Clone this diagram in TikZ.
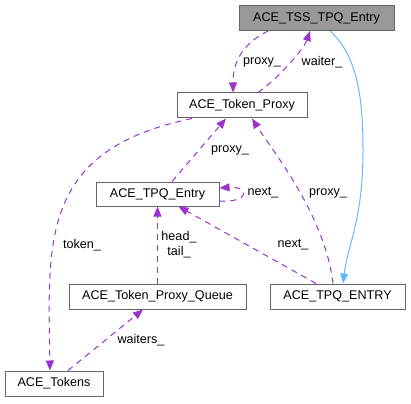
\documentclass[tikz,border=0pt]{standalone}
\usepackage{fontspec}
\setmainfont{Liberation Sans}
\usetikzlibrary{arrows.meta}
\definecolor{edgepurple}{HTML}{9A32CD}
\definecolor{edgeblue}{HTML}{63B8FF}
\definecolor{nodeborder}{HTML}{666666}
\definecolor{nodefill}{HTML}{999999}
\begin{document}
\begin{tikzpicture}[x=1pt,y=-1pt,
  txt/.style={font=\fontsize{12.6}{14}\selectfont},
  box/.style={txt,draw=nodeborder,line width=1pt,fill=white,minimum height=25pt,inner sep=0pt},
  rel/.style={draw=edgepurple,line width=1pt,dash pattern=on 6pt off 5pt,
    -{Triangle[length=10pt,width=8pt,fill=edgepurple]}},
  inh/.style={draw=edgeblue,line width=1pt,-{Triangle[length=10pt,width=8pt,fill=edgeblue]}},
  lbl/.style={txt,inner sep=1pt,align=center}]
\useasboundingbox (0,0) rectangle (411,403);
% nodes
\node[box,fill=nodefill,minimum width=155pt] (tss) at (316.5,18) {ACE\_TSS\_TPQ\_Entry};
\node[box,minimum width=130pt] (tp) at (242,105.5) {ACE\_Token\_Proxy};
\node[box,minimum width=123pt,minimum height=24pt] (te) at (157.5,194) {ACE\_TPQ\_Entry};
\node[box,minimum width=177pt] (tpq) at (157.5,296.5) {ACE\_Token\_Proxy\_Queue};
\node[box,minimum width=135pt] (tentry) at (337.5,296.5) {ACE\_TPQ\_ENTRY};
\node[box,minimum width=98pt] (tok) at (54,383.5) {ACE\_Tokens};
% edges
\draw[rel] ([xshift=-48.5pt]tss.south) .. controls +(-28,14) and +(0,-28) .. ([xshift=-9pt]tp.north);
\draw[rel] ([xshift=16pt]tp.north) .. controls +(20,-14) and +(-6,18) .. ([xshift=-6.5pt]tss.south);
\draw[inh] ([xshift=13.5pt]tss.south) .. controls +(28,25) and +(0,-50) .. (363,150)
  .. controls +(0,70) and +(5,-40) .. ([xshift=5.5pt]tentry.north);
\draw[rel] ([xshift=-50pt]tp.south) .. controls (40,150) and (48,240) .. ([xshift=-4pt]tok.north);
\draw[rel] ([xshift=14.5pt]te.north) -- ([xshift=-16pt]tp.south);
\draw[rel] ([xshift=-4.5pt]tentry.north) .. controls (325,215) and (272,150) .. ([xshift=10pt]tp.south);
\draw[rel] ([yshift=-7pt]te.east) .. controls (250,203) and (250,186) .. ([yshift=6pt]te.east);
\draw[rel] ([xshift=-21.5pt]tentry.north) -- ([xshift=21pt]te.south);
\draw[rel] (tpq.north) -- (te.south);
\draw[rel] ([xshift=14pt]tok.north) -- ([xshift=-14.5pt]tpq.south);
% labels
\node[lbl] (l1) at (262,62) {proxy\_};
\node[lbl] (l2) at (322,62) {waiter\_};
\node[lbl] (l3) at (82,245) {token\_};
\node[lbl] (l4) at (230,150) {proxy\_};
\node[lbl] (l5) at (328,193) {proxy\_};
\node[lbl] (l6) at (263,193) {next\_};
\node[lbl] (l7) at (293,245) {next\_};
\node[lbl,font=\fontsize{12.6}{15}\selectfont] (l8) at (179,245) {head\_\\tail\_};
\node[lbl] (l9) at (141,340) {waiters\_};
\end{tikzpicture}
\end{document}
